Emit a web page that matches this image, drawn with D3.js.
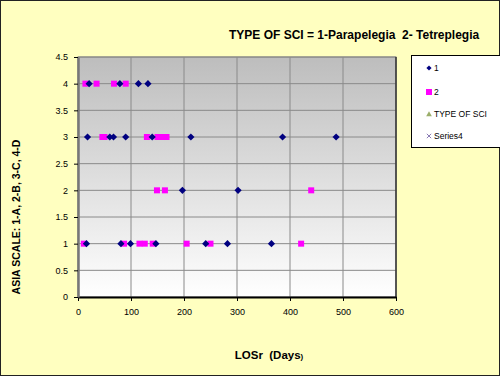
<!DOCTYPE html>
<html><head><meta charset="utf-8">
<script src="https://cdn.jsdelivr.net/npm/d3@7"></script>
<style>body{margin:0;background:#fff}svg{display:block}text{white-space:pre}</style>
</head><body>
<script>
const xTicks = [0,100,200,300,400,500,600];
const yTicks = [0,0.5,1,1.5,2,2.5,3,3.5,4,4.5];
const series1X = [21,79,114,132, 18,60,67,90,140,213,386,487, 197,302, 16,81,99,147,241,282,365];
const series1Y = [4,4,4,4, 3,3,3,3,3,3,3,3, 2,2, 1,1,1,1,1,1,1];
const series2X = [14,35,68,90, 46,50,130,150,158,167, 149,164,440, 11,87,116,126,141,205,250,421];
const series2Y = [4,4,4,4, 3,3,3,3,3,3, 2,2,2, 1,1,1,1,1,1,1,1];
const legendLabels = ["1","2","TYPE OF SCI","Series4"];
const titleText = "TYPE OF SCI = 1-Parapelegia  2- Tetreplegia";
const yTitle = "ASIA SCALE: 1-A, 2-B, 3-C, 4-D";

const W=500,H=376;
const svg=d3.select("body").append("svg").attr("width",W).attr("height",H)
  .style("font-family","'Liberation Sans', Arial, sans-serif");
svg.append("rect").attr("x",0.5).attr("y",0.5).attr("width",W-1).attr("height",H-1)
  .attr("fill","#FFFFC0").attr("stroke","#222").attr("stroke-width",1);

const defs=svg.append("defs");
const g=defs.append("linearGradient").attr("id","pg").attr("x1",0).attr("y1",0).attr("x2",0).attr("y2",1);
g.append("stop").attr("offset","0%").attr("stop-color","#BDBDBD");
g.append("stop").attr("offset","100%").attr("stop-color","#FFFFFF");

const x=d3.scaleLinear().domain([0,600]).range([78,396]);
const y=d3.scaleLinear().domain([0,4.5]).range([297,57]);

svg.append("rect").attr("x",x(0)).attr("y",y(4.5)).attr("width",x(600)-x(0)).attr("height",y(0)-y(4.5))
  .attr("fill","url(#pg)").attr("stroke","#808080").attr("stroke-width",1);

// gridlines
svg.append("g").selectAll("line").data(yTicks.slice(1)).join("line")
  .attr("x1",x(0)).attr("x2",x(600)).attr("y1",d=>y(d)).attr("y2",d=>y(d))
  .attr("stroke","#8a8a8a").attr("stroke-width",1);
svg.append("g").selectAll("line").data(xTicks.slice(1,-1)).join("line")
  .attr("y1",y(0)).attr("y2",y(4.5)).attr("x1",d=>x(d)).attr("x2",d=>x(d))
  .attr("stroke","#8a8a8a").attr("stroke-width",1);
svg.append("line").attr("x1",x(600)).attr("x2",x(600)).attr("y1",y(4.5)).attr("y2",y(0)).attr("stroke","#333").attr("stroke-width",1.5);

// axes
const xa=svg.append("g").attr("transform",`translate(0,${y(0)})`)
  .call(d3.axisBottom(x).tickValues(xTicks).tickSize(4).tickPadding(8).tickSizeOuter(0));
const ya=svg.append("g").attr("transform",`translate(${x(0)},0)`)
  .call(d3.axisLeft(y).tickValues(yTicks).tickFormat(d3.format("")).tickSize(4).tickPadding(6).tickSizeOuter(0));
[xa,ya].forEach(a=>{a.selectAll("text").attr("font-size",9).attr("fill","#000").style("font-family","'Liberation Sans', Arial, sans-serif");
  a.selectAll(".tick line").attr("stroke","#000");});
xa.select(".domain").attr("stroke","#000").attr("stroke-width",2);
ya.select(".domain").attr("stroke","#777").attr("stroke-width",2.5);

// points
const diamondPath="M0,-3.6L3.6,0L0,3.6L-3.6,0Z";
svg.append("g").selectAll("rect").data(series2X.map((v,i)=>[v,series2Y[i]])).join("rect")
  .attr("x",d=>x(d[0])-3).attr("y",d=>y(d[1])-3).attr("width",6).attr("height",6).attr("fill","#FF00FF");
svg.append("g").selectAll("path").data(series1X.map((v,i)=>[v,series1Y[i]])).join("path")
  .attr("d",diamondPath).attr("transform",d=>`translate(${x(d[0])},${y(d[1])})`).attr("fill","#000080");

// titles
svg.append("text").attr("x",229).attr("y",39).attr("font-size",12).attr("font-weight","bold").attr("fill","#000")
  .text(titleText);
svg.append("text").attr("transform",`translate(20,${217}) rotate(-90)`).attr("text-anchor","middle")
  .attr("font-size",10.5).attr("font-weight","bold").text(yTitle);
const xt=svg.append("text").attr("x",269).attr("y",359).attr("text-anchor","middle").attr("font-size",11.5).attr("font-weight","bold");
xt.append("tspan").text("LOSr  (Days");
xt.append("tspan").attr("font-size",8).text(")");

// legend
const lg=svg.append("g");
lg.append("rect").attr("x",411.5).attr("y",55.5).attr("width",100).attr("height",92).attr("fill","#fff").attr("stroke","#000").attr("stroke-width",1);
const ly=[68,92,114,136];
lg.selectAll("text").data(legendLabels).join("text").attr("x",434).attr("y",(d,i)=>ly[i]+3).attr("font-size",8.5).text(d=>d);
lg.append("path").attr("d","M0,-2.6L2.6,0L0,2.6L-2.6,0Z").attr("transform",`translate(429,${ly[0]})`).attr("fill","#000080");
lg.append("rect").attr("x",426).attr("y",ly[1]-3).attr("width",6).attr("height",6).attr("fill","#FF00FF");
lg.append("path").attr("d",d3.symbol().type(d3.symbolTriangle).size(14)).attr("transform",`translate(429,${ly[2]+0.5})`).attr("fill","#9BAE6A");
lg.append("path").attr("d",d3.symbol().type(d3.symbolX).size(14)).attr("transform",`translate(429,${ly[3]})`).attr("fill","none").attr("stroke","#8A7BB5").attr("stroke-width",1);
</script>
</body></html>
